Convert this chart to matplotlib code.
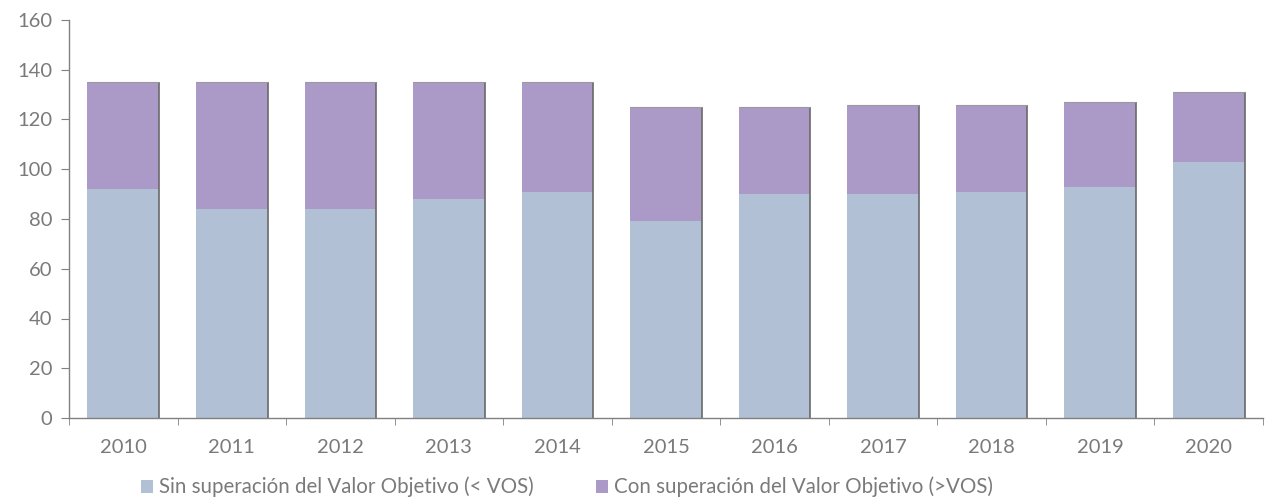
import matplotlib.pyplot as plt
import numpy as np

years = ["2010", "2011", "2012", "2013", "2014", "2015", "2016", "2017", "2018", "2019", "2020"]
below_vos = [92, 84, 84, 88, 91, 79, 90, 90, 91, 93, 103]
above_vos = [43, 51, 51, 47, 44, 46, 35, 36, 35, 34, 28]

label_below = "Sin superación del Valor Objetivo (< VOS)"
label_above = "Con superación del Valor Objetivo (>VOS)"

C_BELOW = "#b1c0d4"
C_ABOVE = "#ab99c7"
TEXT = "#7a7a7a"
AXIS = "#808080"

plt.rcParams["font.family"] = ["Lato", "DejaVu Sans"]

fig = plt.figure(figsize=(12.76, 5), dpi=100)
ax = fig.add_axes([69 / 1276, 1 - 418 / 500, (1263 - 69) / 1276, (418 - 20) / 500])

x = np.arange(len(years))
w = 0.66
b1 = ax.bar(x, below_vos, w, color=C_BELOW, label=label_below)
b2 = ax.bar(x, above_vos, w, bottom=below_vos, color=C_ABOVE, label=label_above)

# subtle dark shadow on the right edge of each bar
tops = np.array(below_vos) + np.array(above_vos)
ax.vlines(x + w / 2, 0, tops, color="#6a6a6a", lw=1.2)
ax.hlines(tops, x - w / 2, x + w / 2, color="#9a9a9a", lw=0.8)

ax.set_xlim(-0.5, len(years) - 0.5)
ax.set_ylim(0, 160)
ax.set_yticks(range(0, 161, 20))
ax.set_xticks(x)
ax.set_xticklabels(years)
ax.set_xticks(np.arange(-0.5, len(years), 1), minor=True)

for s in ["top", "right"]:
    ax.spines[s].set_visible(False)
for s in ["left", "bottom"]:
    ax.spines[s].set_color(AXIS)
    ax.spines[s].set_linewidth(1.0)

ax.tick_params(axis="x", which="major", length=0, pad=15, labelsize=14.5, labelcolor=TEXT)
ax.tick_params(axis="x", which="minor", length=5, color=AXIS, direction="out")
ax.tick_params(axis="y", length=6, color=AXIS, pad=6, labelsize=14.5, labelcolor=TEXT)

fig.legend(handles=[b1, b2], loc="center", bbox_to_anchor=(567 / 1276, 1 - 487 / 500),
           ncol=2, frameon=False, fontsize=14.8, labelcolor=TEXT,
           handlelength=0.6, handleheight=0.6, handletextpad=0.3, columnspacing=3.0)

fig.savefig("out.png", dpi=100, facecolor="white")
